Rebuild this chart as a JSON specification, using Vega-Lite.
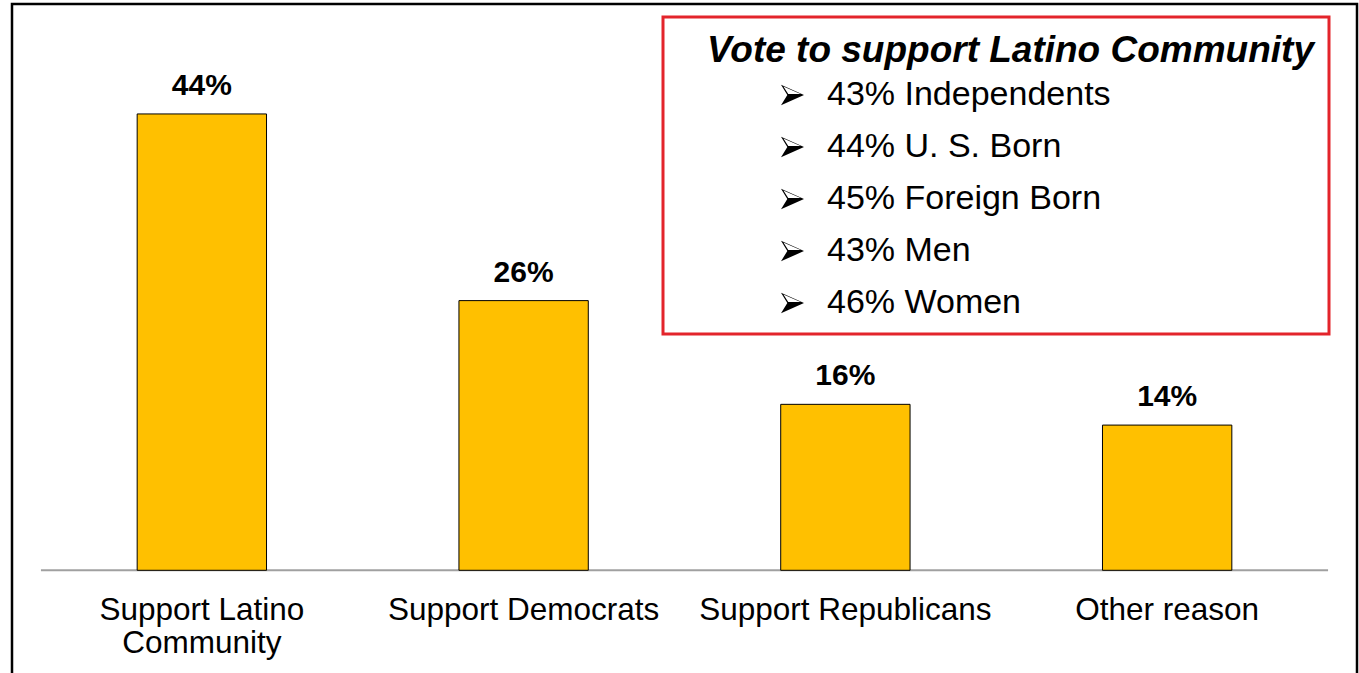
{
  "$schema": "https://vega.github.io/schema/vega-lite/v6.json",
  "width": 1345,
  "height": 672,
  "autosize": {"type": "none"},
  "padding": {"left": 12, "top": 4, "right": 2, "bottom": 0},
  "background": "white",
  "config": {
    "view": {"stroke": "black", "strokeWidth": 2.5, "fill": "white"},
    "font": "Liberation Sans"
  },
  "data": {
    "values": [
      {"category": "Support Latino Community", "label": "Support Latino\nCommunity", "value": 0.44},
      {"category": "Support Democrats", "label": "Support Democrats", "value": 0.26},
      {"category": "Support Republicans", "label": "Support Republicans", "value": 0.16},
      {"category": "Other reason", "label": "Other reason", "value": 0.14}
    ]
  },
  "layer": [
    {
      "data": {"values": [{}]},
      "mark": {"type": "rule", "color": "#A0A0A0", "strokeWidth": 2, "xOffset": -160.9, "x2Offset": 160.9},
      "encoding": {
        "x": {"datum": "Support Latino Community", "type": "nominal",
              "scale": {"domain": ["Support Latino Community", "Support Democrats", "Support Republicans", "Other reason"], "paddingInner": 0.598, "paddingOuter": 0.389}, "axis": null},
        "x2": {"datum": "Other reason"},
        "y": {"datum": 0, "type": "quantitative", "scale": {"domain": [-0.10193, 0.546], "nice": false, "zero": false}, "axis": null}
      }
    },
    {
      "mark": {"type": "bar", "fill": "#FFC000", "stroke": "black", "strokeWidth": 1},
      "encoding": {
        "x": {"field": "category", "type": "nominal", "sort": null, "axis": null},
        "y": {"field": "value", "type": "quantitative", "axis": null}
      }
    },
    {
      "mark": {"type": "text", "font": "Liberation Sans", "fontSize": 30, "fontWeight": "bold", "color": "black", "baseline": "alphabetic", "dy": -19},
      "encoding": {
        "x": {"field": "category", "type": "nominal", "sort": null, "axis": null},
        "y": {"field": "value", "type": "quantitative", "axis": null},
        "text": {"field": "value", "type": "quantitative", "format": ".0%"}
      }
    },
    {
      "mark": {"type": "text", "font": "Liberation Sans", "fontSize": 31.5, "color": "black", "baseline": "alphabetic", "dy": 50, "lineBreak": "\n", "lineHeight": 33},
      "encoding": {
        "x": {"field": "category", "type": "nominal", "sort": null, "axis": null},
        "y": {"datum": 0, "type": "quantitative"},
        "text": {"field": "label", "type": "nominal"}
      }
    },
    {
      "data": {
        "values": [
          {"group": "43% Independents"},
          {"group": "44% U. S. Born"},
          {"group": "45% Foreign Born"},
          {"group": "43% Men"},
          {"group": "46% Women"}
        ]
      },
      "mark": {"type": "point", "filled": true, "opacity": 0},
      "encoding": {
        "color": {
          "field": "group", "type": "nominal", "sort": null,
          "scale": {"range": ["black", "black", "black", "black", "black"]},
          "legend": {
            "orient": "none",
            "legendX": 651,
            "legendY": 13,
            "title": "Vote to support Latino Community",
            "titleFont": "Liberation Sans",
            "titleFontSize": 37,
            "titleFontWeight": "bold",
            "titleFontStyle": "italic",
            "titleColor": "black",
            "titleLimit": 900,
            "titleAnchor": "end",
            "titleBaseline": "line-top",
            "titleLineHeight": 40.5,
            "titlePadding": 10,
            "padding": 14,
            "fillColor": "white",
            "strokeColor": "#E3242B",
            "labelFont": "Liberation Sans",
            "labelFontSize": 34,
            "labelColor": "black",
            "labelOffset": 17.5,
            "labelLimit": 600,
            "symbolOffset": 98.5,
            "symbolType": "M-9.96,0M45.35,0M-1,0.9L1,0L-0.45,0ZM-1,-0.9L1,0L-0.45,0ZM-0.79,-0.74L-0.37,-0.08L0.7,-0.08Z",
            "symbolSize": 529,
            "symbolStrokeWidth": 0,
            "symbolOpacity": 1,
            "symbolFillColor": "black",
            "rowPadding": 18,
            "encode": {"legend": {"update": {"strokeWidth": {"value": 3}}}}
          }
        }
      }
    }
  ]
}
